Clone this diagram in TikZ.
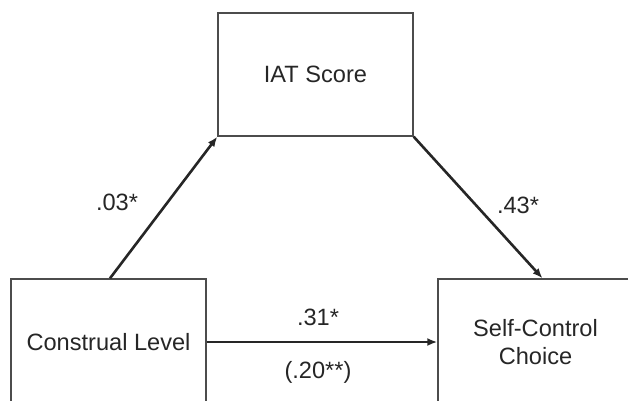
\documentclass[tikz,border=0pt]{standalone}
\usepackage{fontspec}
\setmainfont{Liberation Sans}
\usetikzlibrary{arrows.meta}

\tikzset{
  varbox/.style={draw=black!70, line width=1.4pt, minimum width=195pt,
    minimum height=126pt, inner sep=0pt, align=center,
    font=\fontsize{23.6}{28}\selectfont, text=black!85},
  path/.style={line width=2.6pt, draw=black!85,
    -{Latex[length=10pt,width=8pt]}},
  coef/.style={font=\fontsize{23.6}{28}\selectfont, text=black!85, inner sep=0pt}
}

\begin{document}
\begin{tikzpicture}[x=1pt,y=-1pt]

        \useasboundingbox (0,0) rectangle (628,400);

        \node[varbox, minimum height=123pt] (iat) at (315.5,74.5) {IAT Score};
        \node[varbox] (construal) at (108.5,342) {Construal Level};
        \node[varbox] (choice) at (535.5,342) {Self-Control\\Choice};

        % #######################################

        \draw[path] ([xshift=1.5pt]construal.north) -- (iat.south west);
        \draw[path] (iat.south east) -- ([xshift=7pt]choice.north);
        \draw[path] (construal.east) -- (choice.west);

        \node[coef] (a) at (117,202) {.03*};
        \node[coef] (b) at (518,205) {.43*};
        \node[coef] (c) at (318,317) {.31*};
        \node[coef] (cp) at (318,372) {(.20**)};

    \end{tikzpicture}
\end{document}
